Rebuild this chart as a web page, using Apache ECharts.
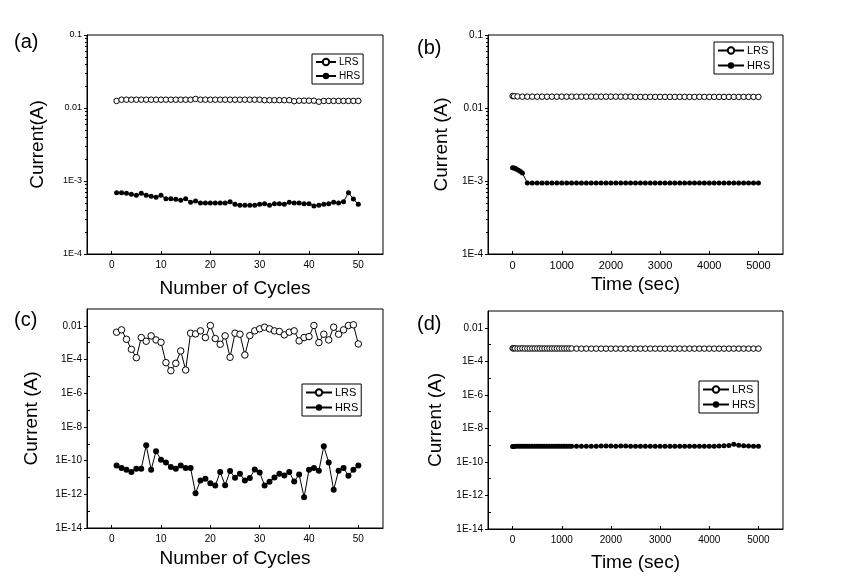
<!DOCTYPE html>
<html><head><meta charset="utf-8">
<script src="https://cdn.jsdelivr.net/npm/echarts@6/dist/echarts.min.js"></script>
<style>html,body{margin:0;padding:0;background:#fff}#c{width:843px;height:579px}</style>
</head><body><div id="c"></div><script>
// ---------- data ----------
const cycles = [1,2,3,4,5,6,7,8,9,10,11,12,13,14,15,16,17,18,19,20,21,22,23,24,25,26,27,28,29,30,31,32,33,34,35,36,37,38,39,40,41,42,43,44,45,46,47,48,49,50];
const cycleTicks = [0,10,20,30,40,50];
const timeTicks = [0,1000,2000,3000,4000,5000];
const minorTicksShallow = [2e-4,3e-4,4e-4,5e-4,6e-4,7e-4,8e-4,9e-4,2e-3,3e-3,4e-3,5e-3,6e-3,7e-3,8e-3,9e-3,2e-2,3e-2,4e-2,5e-2,6e-2,7e-2,8e-2,9e-2];
const minorTicksDeep = [1e-13,1e-11,1e-9,1e-7,1e-5,1e-3];

// (a) cycling, Current (A)
const lrsA = [0.0125,0.0130,0.0130,0.0130,0.0130,0.0130,0.0130,0.0130,0.0130,0.0130,0.0130,0.0130,0.0130,0.0130,0.0130,0.0130,0.0133,0.0130,0.0130,0.0130,0.0130,0.0130,0.0130,0.0130,0.0130,0.0130,0.0130,0.0130,0.0130,0.0130,0.0128,0.0128,0.0128,0.0128,0.0128,0.0128,0.0124,0.0126,0.0126,0.0126,0.0126,0.0122,0.0125,0.0125,0.0125,0.0125,0.0125,0.0125,0.0125,0.0125];
const hrsA = [6.92e-4,6.92e-4,6.78e-4,6.56e-4,6.36e-4,6.78e-4,6.36e-4,6.16e-4,5.97e-4,6.36e-4,5.72e-4,5.72e-4,5.61e-4,5.43e-4,5.72e-4,5.10e-4,5.32e-4,5.00e-4,5.00e-4,5.00e-4,5.00e-4,5.00e-4,5.00e-4,5.21e-4,4.79e-4,4.64e-4,4.64e-4,4.64e-4,4.64e-4,4.79e-4,4.89e-4,4.64e-4,4.89e-4,4.89e-4,4.79e-4,5.10e-4,5.00e-4,5.00e-4,4.89e-4,4.89e-4,4.55e-4,4.64e-4,4.79e-4,4.89e-4,5.10e-4,5.00e-4,5.21e-4,6.92e-4,5.67e-4,4.79e-4];

// (b) retention, Current (A)
const timeLrsB = [0,30,100,200,300,400,500,600,700,800,900,1000,1100,1200,1300,1400,1500,1600,1700,1800,1900,2000,2100,2200,2300,2400,2500,2600,2700,2800,2900,3000,3100,3200,3300,3400,3500,3600,3700,3800,3900,4000,4100,4200,4300,4400,4500,4600,4700,4800,4900,5000];
const lrsB = [0.0146,0.0145,0.0144,0.0143,0.0143,0.0143,0.0143,0.0143,0.0143,0.0143,0.0143,0.0143,0.0143,0.0143,0.0143,0.0143,0.0143,0.0143,0.0143,0.0143,0.0143,0.0143,0.0143,0.0143,0.0143,0.0143,0.0142,0.0142,0.0142,0.0142,0.0142,0.0142,0.0142,0.0142,0.0142,0.0142,0.0142,0.0142,0.0142,0.0142,0.0142,0.0142,0.0142,0.0142,0.0142,0.0142,0.0142,0.0142,0.0142,0.0142,0.0142,0.0142];
const timeHrsB = [0,25,50,80,120,160,200,300,400,500,600,700,800,900,1000,1100,1200,1300,1400,1500,1600,1700,1800,1900,2000,2100,2200,2300,2400,2500,2600,2700,2800,2900,3000,3100,3200,3300,3400,3500,3600,3700,3800,3900,4000,4100,4200,4300,4400,4500,4600,4700,4800,4900,5000];
const hrsB = [1.52e-3,1.51e-3,1.49e-3,1.45e-3,1.40e-3,1.35e-3,1.29e-3,9.4e-4,9.4e-4,9.4e-4,9.4e-4,9.4e-4,9.4e-4,9.4e-4,9.4e-4,9.4e-4,9.4e-4,9.4e-4,9.4e-4,9.4e-4,9.4e-4,9.4e-4,9.4e-4,9.4e-4,9.4e-4,9.4e-4,9.4e-4,9.4e-4,9.4e-4,9.4e-4,9.4e-4,9.4e-4,9.4e-4,9.4e-4,9.4e-4,9.4e-4,9.4e-4,9.4e-4,9.4e-4,9.4e-4,9.4e-4,9.4e-4,9.4e-4,9.4e-4,9.4e-4,9.4e-4,9.4e-4,9.4e-4,9.4e-4,9.4e-4,9.4e-4,9.4e-4,9.4e-4,9.4e-4,9.4e-4];

// (c) cycling, Current (A)
const lrsC = [4.19e-3,5.78e-3,1.60e-3,4.06e-4,1.29e-4,2.02e-3,1.22e-3,2.54e-3,1.46e-3,1.06e-3,6.52e-5,2.18e-5,5.96e-5,3.24e-4,2.38e-5,3.65e-3,3.33e-3,5.04e-3,2.02e-3,1.05e-2,1.76e-3,8.07e-4,2.54e-3,1.36e-4,3.65e-3,3.19e-3,1.87e-4,2.65e-3,5.04e-3,6.62e-3,8.34e-3,6.62e-3,5.04e-3,4.59e-3,2.91e-3,4.19e-3,5.04e-3,1.28e-3,2.02e-3,2.31e-3,1.05e-2,1.02e-3,3.19e-3,1.46e-3,8.34e-3,3.19e-3,5.78e-3,1.05e-2,1.15e-2,8.45e-4];
const hrsC = [5.2e-11,3.6e-11,2.87e-11,2.08e-11,3.29e-11,3.29e-11,8.09e-10,2.87e-11,3.56e-10,1.13e-10,7.85e-11,4.14e-11,3.29e-11,5.2e-11,3.6e-11,3.6e-11,1.17e-12,6.63e-12,8.35e-12,4.61e-12,3.34e-12,2.08e-11,3.5e-12,2.39e-11,9.58e-12,1.66e-11,6.63e-12,9.14e-12,3.0e-11,1.99e-11,3.34e-12,5.53e-12,1.0e-11,1.66e-11,1.32e-11,2.08e-11,5.79e-12,1.51e-11,6.74e-13,2.87e-11,3.6e-11,2.5e-11,7.06e-10,7.85e-11,1.85e-12,2.5e-11,3.6e-11,1.26e-11,2.87e-11,5.2e-11];

// (d) retention, Current (A)
const timeD = [0,20,50,100,150,200,250,300,350,400,450,500,550,600,650,700,750,800,850,900,950,1000,1050,1100,1150,1200,1300,1400,1500,1600,1700,1800,1900,2000,2100,2200,2300,2400,2500,2600,2700,2800,2900,3000,3100,3200,3300,3400,3500,3600,3700,3800,3900,4000,4100,4200,4300,4400,4500,4600,4700,4800,4900,5000];
const lrsD = [6.0e-4,5.9e-4,5.9e-4,5.8e-4,5.8e-4,5.9e-4,5.8e-4,5.8e-4,5.8e-4,5.8e-4,5.8e-4,5.8e-4,5.8e-4,5.8e-4,5.8e-4,5.8e-4,5.8e-4,5.8e-4,5.8e-4,5.8e-4,5.8e-4,5.8e-4,5.8e-4,5.8e-4,5.8e-4,5.8e-4,5.7e-4,5.7e-4,5.7e-4,5.7e-4,5.7e-4,5.7e-4,5.7e-4,5.7e-4,5.7e-4,5.7e-4,5.7e-4,5.7e-4,5.7e-4,5.7e-4,5.7e-4,5.7e-4,5.7e-4,5.7e-4,5.7e-4,5.7e-4,5.7e-4,5.7e-4,5.7e-4,5.7e-4,5.7e-4,5.7e-4,5.7e-4,5.7e-4,5.7e-4,5.7e-4,5.7e-4,5.7e-4,5.7e-4,5.7e-4,5.7e-4,5.7e-4,5.7e-4,5.7e-4];
const hrsD = [8.4e-10,8.4e-10,8.5e-10,8.6e-10,8.6e-10,8.6e-10,8.6e-10,8.6e-10,8.6e-10,8.6e-10,8.6e-10,8.6e-10,8.6e-10,8.6e-10,8.6e-10,8.6e-10,8.6e-10,8.6e-10,8.6e-10,8.6e-10,8.6e-10,8.6e-10,8.6e-10,8.6e-10,8.6e-10,8.6e-10,8.6e-10,8.6e-10,8.6e-10,8.6e-10,8.7e-10,8.9e-10,8.8e-10,8.9e-10,8.7e-10,8.8e-10,8.9e-10,8.7e-10,8.6e-10,8.6e-10,8.6e-10,8.6e-10,8.6e-10,8.6e-10,8.6e-10,8.6e-10,8.6e-10,8.6e-10,8.6e-10,8.6e-10,8.6e-10,8.6e-10,8.6e-10,8.6e-10,8.7e-10,9.0e-10,9.3e-10,9.6e-10,1.12e-9,1.0e-9,9.2e-10,8.8e-10,8.7e-10,8.6e-10];

// ---------- chart ----------
const FONT = 'Liberation Sans, Arial, sans-serif';
const pair = (xs, ys) => xs.map((x, i) => [x, ys[i]]);
function fmt(v) {
  const e = Math.round(Math.log10(v));
  if (e === -1) return '0.1';
  if (e === -2) return '0.01';
  return '1E' + e;
}
const grids = [
  {left: 87, top: 35, width: 296, height: 219},
  {left: 488, top: 35, width: 295, height: 219},
  {left: 87, top: 309, width: 296, height: 219},
  {left: 488, top: 311, width: 295, height: 218}
].map(g => Object.assign({show: true, borderColor: '#000', borderWidth: 1, backgroundColor: '#fff'}, g));

function xAxis(gi, isTime, name, gap, fs) {
  return {
    type: 'value', gridIndex: gi, position: 'bottom',
    min: isTime ? -500 : -5, max: isTime ? 5500 : 55,
    name: name, nameLocation: 'middle', nameGap: gap,
    nameTextStyle: {fontFamily: FONT, fontSize: 19, color: '#000'},
    axisLine: {show: true, onZero: false, lineStyle: {color: '#000', width: 1}},
    axisTick: {show: true, inside: true, length: 3, customValues: isTime ? timeTicks : cycleTicks, lineStyle: {color: '#000'}},
    axisLabel: {customValues: isTime ? timeTicks : cycleTicks, formatter: v => String(v), fontFamily: FONT, fontSize: fs, color: '#000', margin: 6},
    splitLine: {show: false}
  };
}
function yAxisMain(gi, deep, name, gap, fs) {
  return {
    type: 'log', logBase: 10, gridIndex: gi, position: 'left',
    min: deep ? 1e-14 : 1e-4, max: 0.1,
    interval: deep ? 2 : 1,
    name: name, nameLocation: 'middle', nameGap: gap,
    nameTextStyle: {fontFamily: FONT, fontSize: 19, color: '#000'},
    axisLine: {show: true, onZero: false, lineStyle: {color: '#000', width: 1}},
    axisTick: {show: true, inside: false, length: 3, lineStyle: {color: '#000'}},
    axisLabel: {formatter: fmt, showMaxLabel: !deep, fontFamily: FONT, fontSize: fs, color: '#000', margin: 5},
    splitLine: {show: false}
  };
}
function yAxisMinor(gi, deep) {
  return {
    type: 'log', logBase: 10, gridIndex: gi, position: 'left', offset: 0,
    min: deep ? 1e-14 : 1e-4, max: 0.1,
    axisLine: {show: false, onZero: false},
    axisTick: {show: true, inside: deep, length: deep ? 3 : 2, customValues: deep ? minorTicksDeep : minorTicksShallow, lineStyle: {color: '#000'}},
    axisLabel: {show: false}, splitLine: {show: false}
  };
}

const lrsStyle = {symbol: 'circle', itemStyle: {color: '#fff', borderColor: '#000', borderWidth: 1}, lineStyle: {color: '#000', width: 1}};
const hrsStyle = {symbol: 'circle', itemStyle: {color: '#000', borderColor: '#000', borderWidth: 0}, lineStyle: {color: '#000', width: 1}};
function ser(name, data, xi, yi, size, style) {
  return Object.assign({type: 'line', name: name, data: data, xAxisIndex: xi, yAxisIndex: yi, symbolSize: size, showSymbol: true, z: name === 'LRS' ? 3 : 2}, style);
}
function legend(left, top, fs, w) {
  return {
    data: ['LRS', 'HRS'], orient: 'vertical', left: left, top: top,
    itemWidth: w, itemHeight: 8, itemGap: 4, padding: [3, 3, 3, 3],
    borderColor: '#000', borderWidth: 1, backgroundColor: '#fff',
    textStyle: {fontFamily: FONT, fontSize: fs, color: '#000', padding: [0, 0, 0, -2]},
    selectedMode: false
  };
}
const titleStyle = {fontFamily: FONT, fontSize: 20, fontWeight: 'normal', color: '#000'};

const option = {
  animation: false,
  backgroundColor: '#fff',
  title: [
    {text: '(a)', left: 14, top: 32, padding: 0, textStyle: titleStyle},
    {text: '(b)', left: 417, top: 38, padding: 0, textStyle: titleStyle},
    {text: '(c)', left: 14, top: 310, padding: 0, textStyle: titleStyle},
    {text: '(d)', left: 417, top: 314, padding: 0, textStyle: titleStyle}
  ],
  grid: grids,
  legend: [legend(312, 54, 10, 20), legend(714, 42, 11, 26), legend(302, 384, 11, 26), legend(699, 381, 11, 26)],
  xAxis: [
    xAxis(0, false, 'Number of Cycles', 25, 10),
    xAxis(1, true, 'Time (sec)', 21, 11),
    xAxis(2, false, 'Number of Cycles', 21, 10),
    xAxis(3, true, 'Time (sec)', 24, 10)
  ],
  yAxis: [
    yAxisMain(0, false, 'Current(A)', 40, 9),
    yAxisMain(1, false, 'Current (A)', 37, 10),
    yAxisMain(2, true, 'Current (A)', 46, 10),
    yAxisMain(3, true, 'Current (A)', 43, 10),
    yAxisMinor(0, false),
    yAxisMinor(1, false),
    yAxisMinor(2, true),
    yAxisMinor(3, true)
  ],
  series: [
    ser('LRS', pair(cycles, lrsA), 0, 0, 5.5, lrsStyle),
    ser('HRS', pair(cycles, hrsA), 0, 0, 5, hrsStyle),
    ser('LRS', pair(timeLrsB, lrsB), 1, 1, 5.5, lrsStyle),
    ser('HRS', pair(timeHrsB, hrsB), 1, 1, 5, hrsStyle),
    ser('LRS', pair(cycles, lrsC), 2, 2, 6.5, lrsStyle),
    ser('HRS', pair(cycles, hrsC), 2, 2, 6, hrsStyle),
    ser('LRS', pair(timeD, lrsD), 3, 3, 5.5, lrsStyle),
    ser('HRS', pair(timeD, hrsD), 3, 3, 5, hrsStyle)
  ]
};
const chart = echarts.init(document.getElementById('c'), null, {renderer: 'canvas'});
chart.setOption(option);
</script></body></html>
